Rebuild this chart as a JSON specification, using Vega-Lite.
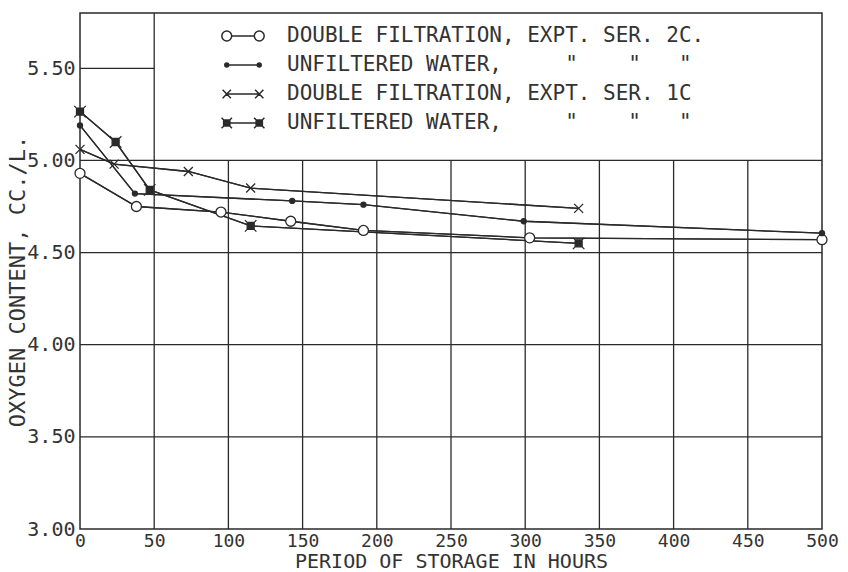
{
  "$schema": "https://vega.github.io/schema/vega-lite/v6.json",
  "width": 742,
  "height": 516,
  "autosize": {"type": "none"},
  "padding": {"left": 80, "top": 13, "right": 26, "bottom": 43},
  "background": "white",
  "config": {
    "view": {"stroke": "#2a2a2a", "strokeWidth": 1.5},
    "font": "DejaVu Sans Mono",
    "axis": {"labelFont": "DejaVu Sans Mono", "titleFont": "DejaVu Sans Mono", "labelColor": "#333", "titleColor": "#333", "titleFontWeight": "normal"}
  },
  "datasets": {
    "obs": [
      {"series": "DOUBLE FILTRATION, EXPT. SER. 2C.", "hours": 0, "oxygen": 4.93},
      {"series": "DOUBLE FILTRATION, EXPT. SER. 2C.", "hours": 38, "oxygen": 4.75},
      {"series": "DOUBLE FILTRATION, EXPT. SER. 2C.", "hours": 95, "oxygen": 4.72},
      {"series": "DOUBLE FILTRATION, EXPT. SER. 2C.", "hours": 142, "oxygen": 4.67},
      {"series": "DOUBLE FILTRATION, EXPT. SER. 2C.", "hours": 191, "oxygen": 4.62},
      {"series": "DOUBLE FILTRATION, EXPT. SER. 2C.", "hours": 303, "oxygen": 4.58},
      {"series": "DOUBLE FILTRATION, EXPT. SER. 2C.", "hours": 500, "oxygen": 4.57},
      {"series": "UNFILTERED WATER,\u00a0\u00a0\u00a0\u00a0\u00a0\"\u00a0\u00a0\u00a0\u00a0\"\u00a0\u00a0\u00a0\"", "hours": 0, "oxygen": 5.19},
      {"series": "UNFILTERED WATER,\u00a0\u00a0\u00a0\u00a0\u00a0\"\u00a0\u00a0\u00a0\u00a0\"\u00a0\u00a0\u00a0\"", "hours": 37, "oxygen": 4.82},
      {"series": "UNFILTERED WATER,\u00a0\u00a0\u00a0\u00a0\u00a0\"\u00a0\u00a0\u00a0\u00a0\"\u00a0\u00a0\u00a0\"", "hours": 143, "oxygen": 4.78},
      {"series": "UNFILTERED WATER,\u00a0\u00a0\u00a0\u00a0\u00a0\"\u00a0\u00a0\u00a0\u00a0\"\u00a0\u00a0\u00a0\"", "hours": 191, "oxygen": 4.76},
      {"series": "UNFILTERED WATER,\u00a0\u00a0\u00a0\u00a0\u00a0\"\u00a0\u00a0\u00a0\u00a0\"\u00a0\u00a0\u00a0\"", "hours": 299, "oxygen": 4.67},
      {"series": "UNFILTERED WATER,\u00a0\u00a0\u00a0\u00a0\u00a0\"\u00a0\u00a0\u00a0\u00a0\"\u00a0\u00a0\u00a0\"", "hours": 500, "oxygen": 4.605},
      {"series": "DOUBLE FILTRATION, EXPT. SER. 1C", "hours": 0, "oxygen": 5.06},
      {"series": "DOUBLE FILTRATION, EXPT. SER. 1C", "hours": 23, "oxygen": 4.98},
      {"series": "DOUBLE FILTRATION, EXPT. SER. 1C", "hours": 73, "oxygen": 4.94},
      {"series": "DOUBLE FILTRATION, EXPT. SER. 1C", "hours": 115, "oxygen": 4.85},
      {"series": "DOUBLE FILTRATION, EXPT. SER. 1C", "hours": 336, "oxygen": 4.74},
      {"series": "UNFILTERED WATER,\u00a0\u00a0\u00a0\u00a0\u00a0\"\u00a0\u00a0\u00a0\u00a0\"\u00a0\u00a0\u00a0\"\u00a0", "hours": 0, "oxygen": 5.265},
      {"series": "UNFILTERED WATER,\u00a0\u00a0\u00a0\u00a0\u00a0\"\u00a0\u00a0\u00a0\u00a0\"\u00a0\u00a0\u00a0\"\u00a0", "hours": 24, "oxygen": 5.10},
      {"series": "UNFILTERED WATER,\u00a0\u00a0\u00a0\u00a0\u00a0\"\u00a0\u00a0\u00a0\u00a0\"\u00a0\u00a0\u00a0\"\u00a0", "hours": 47, "oxygen": 4.84},
      {"series": "UNFILTERED WATER,\u00a0\u00a0\u00a0\u00a0\u00a0\"\u00a0\u00a0\u00a0\u00a0\"\u00a0\u00a0\u00a0\"\u00a0", "hours": 115, "oxygen": 4.645},
      {"series": "UNFILTERED WATER,\u00a0\u00a0\u00a0\u00a0\u00a0\"\u00a0\u00a0\u00a0\u00a0\"\u00a0\u00a0\u00a0\"\u00a0", "hours": 336, "oxygen": 4.55}
    ]
  },
  "resolve": {"scale": {"shape": "independent"}},
  "layer": [
    {
      "data": {"name": "obs"},
      "mark": {"type": "line", "color": "#2a2a2a", "strokeWidth": 1.3},
      "encoding": {
        "x": {
          "field": "hours", "type": "quantitative",
          "scale": {"domain": [0, 500], "nice": false, "zero": false},
          "axis": {
            "values": [0, 50, 100, 150, 200, 250, 300, 350, 400, 450, 500],
            "title": "PERIOD OF STORAGE IN HOURS",
            "grid": false, "ticks": false, "domain": false,
            "labelFontSize": 18, "labelPadding": 3, "labelFlush": false,
            "titleFontSize": 20, "titlePadding": 1
          }
        },
        "y": {
          "field": "oxygen", "type": "quantitative",
          "scale": {"domain": [3, 5.8], "nice": false, "zero": false},
          "axis": {
            "values": [3, 3.5, 4, 4.5, 5, 5.5],
            "format": ".2f",
            "title": "OXYGEN CONTENT, CC./L.",
            "grid": false, "ticks": false, "domain": false,
            "labelFontSize": 20, "labelPadding": 5, "labelFlush": false,
            "titleFontSize": 22, "titlePadding": -3, "titleY": 268
          }
        },
        "detail": {"field": "series", "type": "nominal"}
      }
    },
    {
      "data": {"values": [{"h": 100}, {"h": 150}, {"h": 200}, {"h": 250}, {"h": 300}, {"h": 350}, {"h": 400}, {"h": 450}]},
      "mark": {"type": "rule", "color": "#2a2a2a", "strokeWidth": 1.3},
      "encoding": {
        "x": {"field": "h", "type": "quantitative"},
        "y": {"datum": 3},
        "y2": {"datum": 5}
      }
    },
    {
      "data": {"values": [{"v": 3.5}, {"v": 4.0}, {"v": 4.5}, {"v": 5.0}]},
      "mark": {"type": "rule", "color": "#2a2a2a", "strokeWidth": 1.3},
      "encoding": {
        "y": {"field": "v", "type": "quantitative"}
      }
    },
    {
      "data": {"values": [{"v": 5.5}]},
      "mark": {"type": "rule", "color": "#2a2a2a", "strokeWidth": 1.3},
      "encoding": {
        "y": {"field": "v", "type": "quantitative"},
        "x": {"datum": 0},
        "x2": {"datum": 50}
      }
    },
    {
      "data": {"values": [{"h": 50}]},
      "mark": {"type": "rule", "color": "#2a2a2a", "strokeWidth": 1.3},
      "encoding": {
        "x": {"field": "h", "type": "quantitative"}
      }
    },
    {
      "data": {"name": "obs"},
      "mark": {"type": "line", "color": "#2a2a2a", "strokeWidth": 1.3},
      "encoding": {
        "x": {"field": "hours", "type": "quantitative"},
        "y": {"field": "oxygen", "type": "quantitative"},
        "detail": {"field": "series", "type": "nominal"}
      }
    },
    {
      "data": {"name": "obs"},
      "mark": {"type": "point", "size": 100, "stroke": "#2a2a2a", "strokeWidth": 1.3, "opacity": 1},
      "encoding": {
        "x": {"field": "hours", "type": "quantitative"},
        "y": {"field": "oxygen", "type": "quantitative"},
        "shape": {
          "field": "series", "type": "nominal", "legend": null,
          "scale": {
            "domain": [
              "DOUBLE FILTRATION, EXPT. SER. 2C.",
              "UNFILTERED WATER,\u00a0\u00a0\u00a0\u00a0\u00a0\"\u00a0\u00a0\u00a0\u00a0\"\u00a0\u00a0\u00a0\"",
              "DOUBLE FILTRATION, EXPT. SER. 1C",
              "UNFILTERED WATER,\u00a0\u00a0\u00a0\u00a0\u00a0\"\u00a0\u00a0\u00a0\u00a0\"\u00a0\u00a0\u00a0\"\u00a0"
            ],
            "range": [
              "M-1,0A1,1 0 1,1 1,0A1,1 0 1,1 -1,0Z",
              "M-0.5,0A0.5,0.5 0 1,1 0.5,0A0.5,0.5 0 1,1 -0.5,0Z",
              "M-0.9,-0.9L0.9,0.9M-0.9,0.9L0.9,-0.9",
              "M-0.7,-0.7H0.7V0.7H-0.7Z M-1.15,-1.15L1.15,1.15M-1.15,1.15L1.15,-1.15"
            ]
          }
        },
        "fill": {
          "field": "series", "type": "nominal", "legend": null,
          "scale": {
            "domain": [
              "DOUBLE FILTRATION, EXPT. SER. 2C.",
              "UNFILTERED WATER,\u00a0\u00a0\u00a0\u00a0\u00a0\"\u00a0\u00a0\u00a0\u00a0\"\u00a0\u00a0\u00a0\"",
              "DOUBLE FILTRATION, EXPT. SER. 1C",
              "UNFILTERED WATER,\u00a0\u00a0\u00a0\u00a0\u00a0\"\u00a0\u00a0\u00a0\u00a0\"\u00a0\u00a0\u00a0\"\u00a0"
            ],
            "range": ["white", "#2a2a2a", "transparent", "#2a2a2a"]
          }
        }
      }
    },
    {
      "data": {"name": "obs"},
      "transform": [{"filter": {"field": "series", "equal": "none"}}],
      "mark": {"type": "point", "filled": false, "stroke": "#2a2a2a", "strokeWidth": 1.5, "opacity": 1},
      "encoding": {
        "shape": {
          "field": "series", "type": "nominal",
          "scale": {
            "domain": [
              "DOUBLE FILTRATION, EXPT. SER. 2C.",
              "UNFILTERED WATER,\u00a0\u00a0\u00a0\u00a0\u00a0\"\u00a0\u00a0\u00a0\u00a0\"\u00a0\u00a0\u00a0\"",
              "DOUBLE FILTRATION, EXPT. SER. 1C",
              "UNFILTERED WATER,\u00a0\u00a0\u00a0\u00a0\u00a0\"\u00a0\u00a0\u00a0\u00a0\"\u00a0\u00a0\u00a0\"\u00a0"
            ],
            "range": [
              "M-1.63,0A0.38,0.38 0 1,1 -0.87,0A0.38,0.38 0 1,1 -1.63,0Z M0.87,0A0.38,0.38 0 1,1 1.63,0A0.38,0.38 0 1,1 0.87,0Z M-0.87,0H0.87",
              "M-1.4,0A0.15,0.15 0 1,1 -1.1,0A0.15,0.15 0 1,1 -1.4,0Z M-1.3,0A0.05,0.05 0 1,1 -1.2,0A0.05,0.05 0 1,1 -1.3,0Z M1.1,0A0.15,0.15 0 1,1 1.4,0A0.15,0.15 0 1,1 1.1,0Z M1.2,0A0.05,0.05 0 1,1 1.3,0A0.05,0.05 0 1,1 1.2,0Z M-1.25,0H1.25",
              "M-1.57,-0.32L-0.93,0.32M-1.57,0.32L-0.93,-0.32M0.93,-0.32L1.57,0.32M0.93,0.32L1.57,-0.32M-1.25,0H1.25",
              "M-1.49,-0.24H-1.01V0.24H-1.49Z M-1.39,-0.14H-1.11V0.14H-1.39Z M-1.3,-0.05H-1.2V0.05H-1.3Z M-1.65,-0.4L-0.85,0.4M-1.65,0.4L-0.85,-0.4 M1.01,-0.24H1.49V0.24H1.01Z M1.11,-0.14H1.39V0.14H1.11Z M1.2,-0.05H1.3V0.05H1.2Z M0.85,-0.4L1.65,0.4M0.85,0.4L1.65,-0.4 M-1.25,0H1.25"
            ]
          },
          "legend": {
            "orient": "none", "legendX": 149, "legendY": 9,
            "title": null, "padding": 0,
            "symbolSize": 676, "symbolStrokeWidth": 1.5, "symbolStrokeColor": "#2a2a2a",
            "symbolFillColor": "transparent", "symbolOpacity": 1,
            "labelFont": "DejaVu Sans Mono", "labelFontSize": 21, "labelColor": "#333",
            "labelOffset": 30, "labelLimit": 0, "rowPadding": 5
          }
        }
      }
    }
  ]
}
